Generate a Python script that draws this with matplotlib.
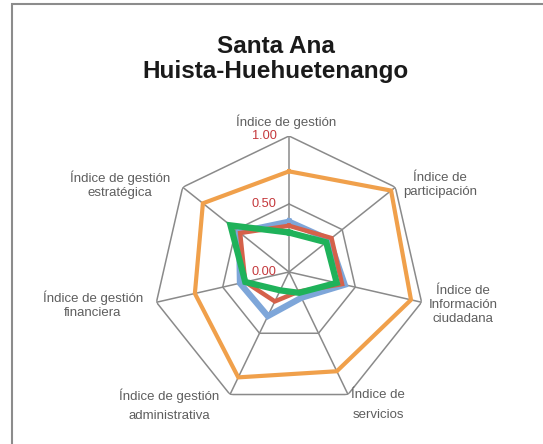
import numpy as np
import matplotlib
matplotlib.use('Agg')
import matplotlib.pyplot as plt
from matplotlib.patches import Rectangle

# Ejes del radar (sentido horario desde arriba)
categorias = ['Índice de gestión', 'Índice de\nparticipación', 'Índice de\nInformación\nciudadana',
              'Índice de\nservicios', 'Índice de gestión\nadministrativa',
              'Índice de gestión\nfinanciera', 'Índice de gestión\nestratégica']

# Series
serie_naranja = [0.74, 0.96, 0.92, 0.81, 0.86, 0.71, 0.81]
serie_azul = [0.37, 0.38, 0.42, 0.21, 0.36, 0.37, 0.47]
serie_roja = [0.34, 0.40, 0.40, 0.16, 0.24, 0.33, 0.46]
serie_verde = [0.29, 0.35, 0.36, 0.17, 0.15, 0.33, 0.55]

ticks = [0.0, 0.5, 1.0]
tick_labels = ['0.00', '0.50', '1.00']

plt.rcParams['font.family'] = ['Liberation Sans', 'DejaVu Sans']

fig = plt.figure(figsize=(5.43, 4.44), dpi=100)
ax = fig.add_axes([0.2818, 0.0811, 0.5009, 0.6126], projection='polar')
ax.set_theta_offset(np.pi / 2)
ax.set_theta_direction(-1)
ax.set_ylim(0, 1)
ax.axis('off')

n = len(categorias)
ang = np.linspace(0, 2 * np.pi, n, endpoint=False)
ang_c = np.append(ang, ang[0])

# Rejilla poligonal y radios
gris = '#8a8a8a'
for t in ticks[1:]:
    ax.plot(ang_c, [t] * (n + 1), color=gris, lw=1.1, zorder=1)
for a in ang:
    ax.plot([a, a], [0, 1], color=gris, lw=1.1, zorder=1)

# Series
for vals, col, lw in [(serie_naranja, '#F0A04B', 3.0),
                      (serie_azul, '#7EA6D9', 4.5),
                      (serie_roja, '#D5614A', 3.2),
                      (serie_verde, '#1FB25A', 4.5)]:
    v = np.append(vals, vals[0])
    ax.plot(ang_c, v, color=col, lw=lw, solid_joinstyle='miter', zorder=3)

# Etiquetas de escala
for t, lab in zip(ticks, tick_labels):
    ax.annotate(lab, xy=(0, t), xytext=(-9, 0), textcoords='offset points',
                ha='right', va='center', color='#C4373B', fontsize=9.2, zorder=4)

# Etiquetas de categorías (posición en píxeles de la figura)
pos = [(286, 122), (440, 185), (463, 305), (378, 405), (169, 405), (93, 305), (120, 185)]
W, H = 543, 444
for lab, (px, py) in zip(categorias, pos):
    ls = 1.8 if lab in ('Índice de\nservicios', 'Índice de gestión\nadministrativa') else 1.25
    fig.text(px / W, 1 - py / H, lab, ha='center', va='center', fontsize=9.5,
             color='#5e5e5e', linespacing=ls)

# Título
fig.text(276 / W, 1 - 59 / H, 'Santa Ana\nHuista-Huehuetenango', ha='center', va='center',
         fontsize=17.5, fontweight='bold', color='#1a1a1a', linespacing=1.1)

# Marco
fig.patches.append(Rectangle((12 / W, -0.05), 1.0, 1 - 4 / H + 0.05, transform=fig.transFigure,
                             fill=False, edgecolor='#8c8c8c', lw=1.5))

fig.savefig('out.png', dpi=100)
